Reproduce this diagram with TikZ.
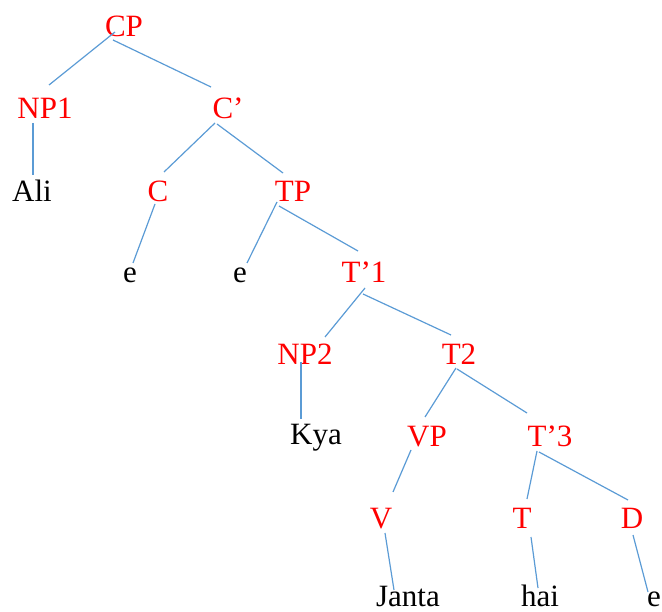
\documentclass[tikz,border=0pt]{standalone}
\usepackage{fontspec}
\setmainfont{Liberation Serif}
\usetikzlibrary{calc}
\definecolor{edgeblue}{RGB}{91,155,213}
\definecolor{labred}{RGB}{255,0,0}
\tikzset{
  cat/.style={anchor=base, inner sep=0pt, text=labred, font=\fontsize{31}{36}\selectfont},
  word/.style={anchor=base, inner sep=0pt, text=black, font=\fontsize{31}{36}\selectfont},
  branch/.style={draw=edgeblue, line width=1.2pt}
}
\begin{document}
\begin{tikzpicture}[x=1pt,y=-1pt]
\useasboundingbox (0,0) rectangle (662,612);
% categories
\node[cat] (cp) at (124,37) {CP};
\node[cat] (np1) at (45,119) {NP1};
\node[cat] (cbar) at (228,119) {C’};
\node[cat] (c) at (158,202) {C};
\node[cat] (tp) at (293,202) {TP};
\node[cat] (t1) at (364,283) {T’1};
\node[cat] (np2) at (305,365) {NP2};
\node[cat] (t2) at (459,365) {T2};
\node[cat] (vp) at (427,447) {VP};
\node[cat] (t3) at (550,447) {T’3};
\node[cat] (v) at (381,528) {V};
\node[cat] (t) at (522,528) {T};
\node[cat] (d) at (632,528) {D};
% words
\node[word] (ali) at (32,202) {Ali};
\node[word] (e1) at (130,283) {e};
\node[word] (e2) at (240,283) {e};
\node[word] (kya) at (316,445) {Kya};
\node[word] (janta) at (408,606) {Janta};
\node[word] (hai) at (540,606) {hai};
\node[word] (e3) at (654,606) {e};
% branches
\draw[branch] ($(cp.base)+(-9,-5)$) -- ($(np1.base)+(4,-34)$);
\draw[branch] ($(cp.base)+(-11,3)$) -- ($(cbar.base)+(-17,-32)$);
\draw[branch] ($(np1.base)+(-12,4)$) -- ($(ali.base)+(1,-27)$);
\draw[branch] ($(cbar.base)+(-13,4)$) -- ($(c.base)+(6,-30)$);
\draw[branch] ($(cbar.base)+(-11,5)$) -- ($(tp.base)+(-10,-29)$);
\draw[branch] ($(c.base)+(-3,2)$) -- ($(e1.base)+(3,-20)$);
\draw[branch] ($(tp.base)+(-16,0)$) -- ($(e2.base)+(7,-20)$);
\draw[branch] ($(tp.base)+(-14,4)$) -- ($(t1.base)+(-6,-32)$);
\draw[branch] ($(t1.base)+(1,5)$) -- ($(np2.base)+(20,-28)$);
\draw[branch] ($(t1.base)+(-1,11)$) -- ($(t2.base)+(-8,-30)$);
\draw[branch] ($(np2.base)+(-4,-3)$) -- ($(kya.base)+(-15,-26)$);
\draw[branch] ($(t2.base)+(-3,3)$) -- ($(vp.base)+(-2,-30)$);
\draw[branch] ($(t2.base)+(-2,4)$) -- ($(t3.base)+(-23,-34)$);
\draw[branch] ($(vp.base)+(-16,3)$) -- ($(v.base)+(12,-36)$);
\draw[branch] ($(v.base)+(4,5)$) -- ($(janta.base)+(-14,-16)$);
\draw[branch] ($(t3.base)+(-13,4)$) -- ($(t.base)+(5,-29)$);
\draw[branch] ($(t3.base)+(-11,5)$) -- ($(d.base)+(-4,-28)$);
\draw[branch] ($(t.base)+(9,9)$) -- ($(hai.base)+(-2,-18)$);
\draw[branch] ($(d.base)+(1,7)$) -- ($(e3.base)+(-6,-14)$);
\end{tikzpicture}
\end{document}
